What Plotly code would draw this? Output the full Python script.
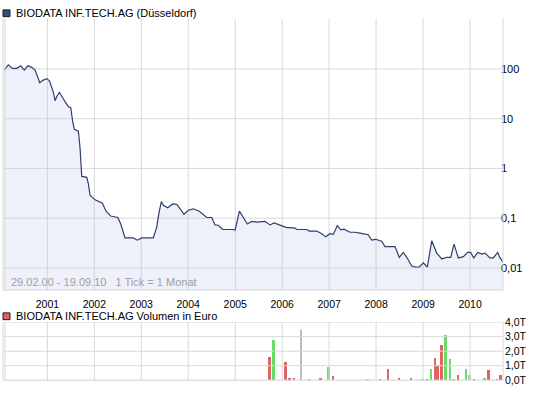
import plotly.graph_objects as go
from datetime import datetime, timedelta
import calendar

# ---------------- data ----------------
price_t = [2000.08, 2000.170, 2000.255, 2000.349, 2000.434, 2000.510, 2000.583, 2000.668, 2000.738,
           2000.787, 2000.838, 2000.902, 2000.987, 2001.043, 2001.094, 2001.128, 2001.164, 2001.200,
           2001.255, 2001.328, 2001.377, 2001.447, 2001.498, 2001.541, 2001.575, 2001.660, 2001.696,
           2001.732, 2001.839, 2001.873, 2001.909, 2002.016, 2002.122, 2002.171, 2002.250, 2002.350,
           2002.499, 2002.563, 2002.654, 2002.831, 2002.916, 2003.010, 2003.257, 2003.329, 2003.372,
           2003.427, 2003.470, 2003.563, 2003.670, 2003.755, 2003.825, 2003.910, 2004.002, 2004.108,
           2004.236, 2004.321, 2004.394, 2004.500, 2004.570, 2004.641, 2004.734, 2004.960, 2004.996,
           2005.088, 2005.173, 2005.258, 2005.352, 2005.458, 2005.635, 2005.741, 2005.827, 2005.954,
           2006.082, 2006.274, 2006.310, 2006.523, 2006.578, 2006.736, 2006.842, 2006.927, 2007.019,
           2007.089, 2007.174, 2007.247, 2007.317, 2007.445, 2007.551, 2007.657, 2007.834, 2007.906,
           2007.992, 2008.119, 2008.190, 2008.403, 2008.494, 2008.579, 2008.652, 2008.758, 2008.828,
           2008.920, 2009.005, 2009.090, 2009.184, 2009.290, 2009.397, 2009.503, 2009.589, 2009.659,
           2009.750, 2009.857, 2009.950, 2010.014, 2010.078, 2010.163, 2010.255, 2010.319, 2010.425,
           2010.495, 2010.589, 2010.638, 2010.70]
price_v = [95, 121, 103, 103, 116, 95, 116, 108, 95,
           74, 53, 59, 64, 58, 44, 34, 23, 28,
           34, 27, 22, 17.4, 16.6, 8.5, 6.1, 5.6, 2.56,
           0.69, 0.66, 0.49, 0.29, 0.233, 0.207, 0.20, 0.138, 0.110,
           0.103, 0.076, 0.040, 0.040, 0.036, 0.040, 0.040, 0.066, 0.119,
           0.216, 0.181, 0.161, 0.193, 0.19, 0.156, 0.119, 0.144, 0.154,
           0.138, 0.115, 0.103, 0.103, 0.073, 0.072, 0.059, 0.059, 0.057,
           0.138, 0.100, 0.076, 0.086, 0.083, 0.086, 0.073, 0.080, 0.073,
           0.065, 0.063, 0.059, 0.059, 0.055, 0.055, 0.0485, 0.042, 0.0485,
           0.047, 0.0705, 0.058, 0.060, 0.052, 0.052, 0.050, 0.0464, 0.036,
           0.0375, 0.0344, 0.0267, 0.0267, 0.0163, 0.0204, 0.0163, 0.0109, 0.0104,
           0.0104, 0.0126, 0.0104, 0.035, 0.0198, 0.0151, 0.0163, 0.0163, 0.030,
           0.0158, 0.0168, 0.0204, 0.0204, 0.0158, 0.0204, 0.0189, 0.0198, 0.0158,
           0.0158, 0.0204, 0.0158, 0.0132]

vol_t = [2005.734, 2005.815, 2006.067, 2006.155, 2006.251, 2006.400, 2006.570, 2006.820,
         2006.990, 2007.080, 2007.820, 2008.080, 2008.250, 2008.490, 2008.740, 2008.990,
         2009.080, 2009.170, 2009.250, 2009.310, 2009.390, 2009.480, 2009.570, 2009.650,
         2009.740, 2009.910, 2009.990, 2010.080, 2010.310, 2010.390, 2010.570, 2010.650]
vol_v = [1.61, 2.73, 1.23, 0.14, 0.14, 3.48, 0.07, 0.14,
         0.93, 0.27, 0.07, 0.07, 0.75, 0.14, 0.14, 0.07,
         0.07, 0.75, 1.50, 1.02, 2.45, 3.10, 1.43, 0.07,
         0.34, 0.75, 0.34, 0.07, 0.14, 0.68, 0.07, 0.34]
vol_dir = ["down", "up", "down", "down", "down", "flat", "down", "down",
           "up", "down", "flat", "down", "down", "down", "down", "up",
           "down", "up", "down", "down", "down", "up", "up", "up",
           "down", "up", "flat", "down", "up", "down", "up", "down"]

year_ticks = [2001, 2002, 2003, 2004, 2005, 2006, 2007, 2008, 2009, 2010]
y_tickvals = [0.01, 0.1, 1, 10, 100]
y_ticktext = ["0,01", "0,1", "1", "10", "100"]
v_tickvals = [0, 1, 2, 3, 4]
v_ticktext = ["0,0T", "1,0T", "2,0T", "3,0T", "4,0T"]

title_main = "BIODATA INF.TECH.AG (Düsseldorf)"
title_vol = "BIODATA INF.TECH.AG Volumen in Euro"
note = "29.02.00 - 19.09.10   1 Tick = 1 Monat"


def to_date(y):
    yr = int(y)
    n = 366 if calendar.isleap(yr) else 365
    return datetime(yr, 1, 1) + timedelta(days=(y - yr) * n)


px = [to_date(t) for t in price_t]
vx = [to_date(t) for t in vol_t]
dir_colors = {"up": "#66dd66", "down": "#dd6464", "flat": "#bdbdbd"}
vc = [dir_colors[d] for d in vol_dir]

W, H = 545, 395
FONT = "Liberation Sans, Arial, sans-serif"
GRID = "#d8d8d8"
LINE = "#2e3f6e"
FILL = "rgba(190,200,235,0.25)"

x_left, x_right = 4 / W, 503 / W
main_dom = [1 - 293 / H, 1 - 13 / H]
vol_dom = [1 - 386 / H, 1 - 326 / H]
xr = [to_date(2000.078), to_date(2010.702)]
ylog_range = [-2.448, 3.014]
v_range = [0, 4]

fig = go.Figure()


def grid_trace(xs, ys, xa, ya):
    fig.add_trace(go.Scatter(x=xs, y=ys, mode="lines", line=dict(color=GRID, width=1),
                             hoverinfo="skip", showlegend=False, xaxis=xa, yaxis=ya,
                             connectgaps=False))


# grid lines, drawn through the axes' own scales
y_lo, y_hi = 10 ** ylog_range[0], 10 ** ylog_range[1]
gx, gy = [], []
for yr in year_ticks:
    d = datetime(yr, 1, 1)
    gx += [d, d, None]
    gy += [y_lo, y_hi, None]
for v in y_tickvals:
    gx += [xr[0], xr[1], None]
    gy += [v, v, None]
grid_trace(gx, gy, "x", "y")

gx2, gy2 = [], []
for yr in year_ticks:
    d = datetime(yr, 1, 1)
    gx2 += [d, d, None]
    gy2 += [v_range[0], v_range[1], None]
for v in v_tickvals:
    gx2 += [xr[0], xr[1], None]
    gy2 += [v, v, None]
grid_trace(gx2, gy2, "x2", "y2")

# baseline for area fill on log axis
fig.add_trace(go.Scatter(x=[px[0], px[-1]], y=[1e-4, 1e-4], mode="lines",
                         line=dict(width=0, color="rgba(0,0,0,0)"),
                         hoverinfo="skip", showlegend=False, xaxis="x", yaxis="y"))
fig.add_trace(go.Scatter(x=px, y=price_v, mode="lines", fill="tonexty",
                         fillcolor=FILL, line=dict(color=LINE, width=1.2),
                         showlegend=False, xaxis="x", yaxis="y"))
fig.add_trace(go.Bar(x=vx, y=vol_v, marker=dict(color=vc, line=dict(width=0)),
                     width=20 * 86400000, showlegend=False, xaxis="x2", yaxis="y2"))

fig.update_layout(
    width=W, height=H, margin=dict(l=0, r=0, t=0, b=0), showlegend=False,
    paper_bgcolor="white", plot_bgcolor="white", bargap=0,
    font=dict(family=FONT, size=10, color="#000"),
    xaxis=dict(type="date", range=xr, domain=[x_left, x_right], anchor="y", dtick="M12",
               tick0="2001-01-01", showgrid=False, zeroline=False,
               ticks="outside", ticklen=4, tickcolor="rgba(0,0,0,0)", tickformat="%Y",
               tickfont=dict(size=10.5)),
    yaxis=dict(type="log", range=ylog_range, domain=main_dom, side="right", anchor="x",
               tickvals=y_tickvals, ticktext=y_ticktext, showgrid=False,
               zeroline=False, ticks="", ticklabelstandoff=-3, tickfont=dict(size=11)),
    xaxis2=dict(type="date", range=xr, domain=[x_left, x_right], anchor="y2", dtick="M12",
                tick0="2001-01-01", showgrid=False, zeroline=False, showticklabels=False),
    yaxis2=dict(range=v_range, domain=vol_dom, side="right", anchor="x2", showgrid=False,
                zeroline=False, ticks="", ticklabelstandoff=1,
                tickvals=v_tickvals, ticktext=v_ticktext, tickfont=dict(size=10.5)),
)

gl = dict(color=GRID, width=1)
shapes = []
for dom in (main_dom, vol_dom):
    for xx in (3 / W, 5 / W):
        shapes.append(dict(type="line", xref="paper", yref="paper", x0=xx, x1=xx,
                           y0=dom[0], y1=dom[1], line=gl))
    shapes.append(dict(type="line", xref="paper", yref="paper", x0=3 / W, x1=x_right,
                       y0=dom[0], y1=dom[0], line=gl))
    shapes.append(dict(type="line", xref="paper", yref="paper", x0=x_right, x1=x_right,
                       y0=dom[0], y1=dom[1], line=gl))
shapes.append(dict(type="rect", xref="paper", yref="paper", x0=3 / W, x1=10 / W,
                   y0=1 - 11 / H, y1=1 - 4 / H, fillcolor="#3b4f80",
                   line=dict(color="#1a1a1a", width=1)))
shapes.append(dict(type="rect", xref="paper", yref="paper", x0=3 / W, x1=10 / W,
                   y0=1 - 323.5 / H, y1=1 - 316.5 / H, fillcolor="#dd6464",
                   line=dict(color="#1a1a1a", width=1)))
fig.update_layout(shapes=shapes)

fig.add_annotation(text=title_main, xref="paper", yref="paper", x=14 / W, y=1 - 7.5 / H,
                   xanchor="left", yanchor="middle", showarrow=False,
                   font=dict(size=11, color="#000"))
fig.add_annotation(text=title_vol, xref="paper", yref="paper", x=14 / W, y=1 - 320 / H,
                   xanchor="left", yanchor="middle", showarrow=False,
                   font=dict(size=11, color="#000"))
fig.add_annotation(text=note.replace("   ", "&nbsp;&nbsp;&nbsp;"), xref="paper", yref="paper",
                   x=9 / W, y=1 - 285 / H, xanchor="left", yanchor="middle",
                   showarrow=False, font=dict(size=11, color="#a0a0a0"))

fig.write_html("out.html")
